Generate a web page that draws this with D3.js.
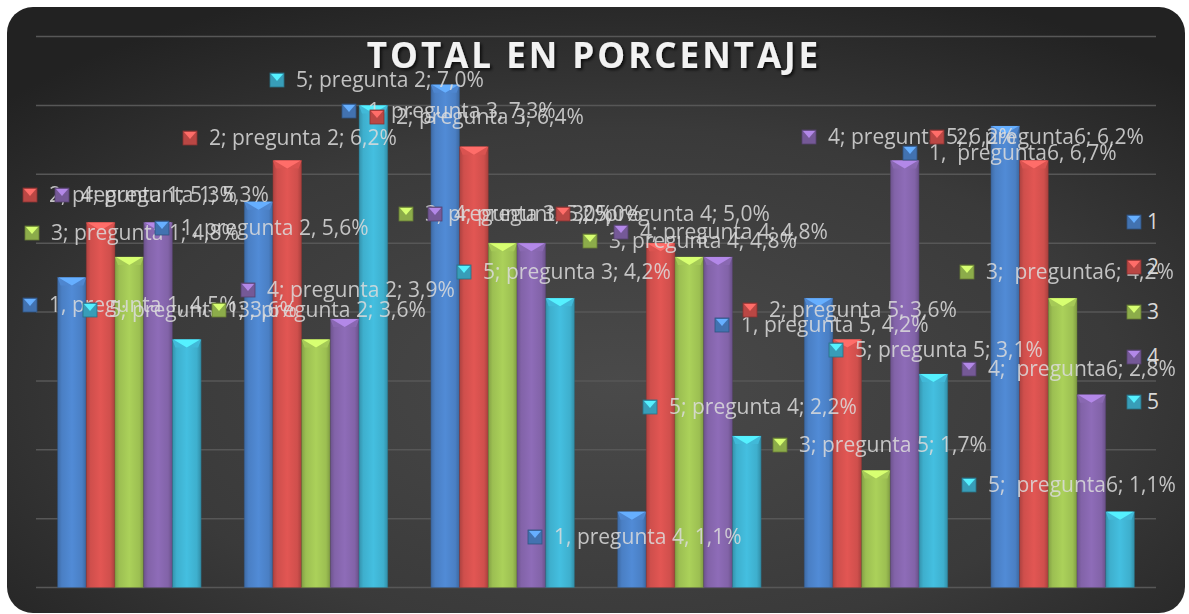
<!DOCTYPE html>
<html>
    <head>
        <script src="https://d3js.org/d3.v7.min.js"></script>
        <style>
            body, html {
                margin: 0;
                padding: 0;
                background: #ffffff;
                font-family: "Open Sans", Lato, sans-serif;
            }
            .title {
                font-family: "Open Sans", Lato, sans-serif;
                font-weight: bold;
                font-size: 35px;
                letter-spacing: 3px;
                fill: #f2f2f2;
            }
            .dlabel {
                font-size: 21px;
                fill: #dcdcdc;
                opacity: 0.85;
                white-space: pre;
            }
            .legendText {
                font-size: 21px;
                fill: #d9d9d9;
            }
        </style>
    </head>
    <body>
        <div id="chart"></div>
        <script>

            /* DATA (percent) */
            const categories = ["pregunta 1", "pregunta 2", "pregunta 3", "pregunta 4", "pregunta 5", "pregunta6"];
            const seriesNames = ["1", "2", "3", "4", "5"];
            const serie1 = [4.5, 5.6, 7.3, 1.1, 4.2, 6.7];
            const serie2 = [5.3, 6.2, 6.4, 5.0, 3.6, 6.2];
            const serie3 = [4.8, 3.6, 5.0, 4.8, 1.7, 4.2];
            const serie4 = [5.3, 3.9, 5.0, 4.8, 6.2, 2.8];
            const serie5 = [3.6, 7.0, 4.2, 2.2, 3.1, 1.1];
            const yTicks = [0, 1, 2, 3, 4, 5, 6, 7, 8];

            const series = [serie1, serie2, serie3, serie4, serie5];
            const colors = ["#4a7fc4", "#cf4f4c", "#9cbf52", "#8263a8", "#3eafcd"];

            /* the data labels were dragged around by hand in the original,
               so their marker positions are layout, per category then per series */
            const labelPos = [
                [[30, 305], [30, 195], [32, 233], [62, 195], [90, 310]],
                [[162, 228], [190, 138], [219, 310], [248, 290], [277, 80]],
                [[349, 111], [377, 117], [406, 214], [435, 214], [464, 272]],
                [[535, 537], [563, 214], [590, 241], [621, 232], [650, 407]],
                [[722, 325], [750, 310], [780, 445], [809, 137], [836, 350]],
                [[910, 153], [937, 137], [967, 272], [969, 369], [969, 485]]
            ];

            const width = 1189;
            const height = 614;
            const plot = {left: 36, right: 1156, top: 36.5, bottom: 587.5};

            const svg = d3.select("#chart")
                .append("svg")
                .attr("width", width)
                .attr("height", height);

            const defs = svg.append("defs");

            // dark background with lighter centre
            const bg = defs.append("radialGradient")
                .attr("id", "bgGrad")
                .attr("cx", "52%").attr("cy", "62%").attr("r", "70%");
            bg.append("stop").attr("offset", "0%").attr("stop-color", "#4a4a4a");
            bg.append("stop").attr("offset", "60%").attr("stop-color", "#3a3a3a");
            bg.append("stop").attr("offset", "100%").attr("stop-color", "#222222");

            svg.append("rect")
                .attr("x", 7).attr("y", 7)
                .attr("width", 1178).attr("height", 606)
                .attr("rx", 26).attr("ry", 26)
                .attr("fill", "url(#bgGrad)");

            // bar gradients
            colors.forEach(function(c, i) {
                const g = defs.append("linearGradient")
                    .attr("id", "barGrad" + i)
                    .attr("x1", "0%").attr("x2", "100%").attr("y1", "0%").attr("y2", "0%");
                const base = d3.color(c);
                g.append("stop").attr("offset", "0%").attr("stop-color", base.darker(0.5));
                g.append("stop").attr("offset", "15%").attr("stop-color", base);
                g.append("stop").attr("offset", "50%").attr("stop-color", base.brighter(0.25));
                g.append("stop").attr("offset", "85%").attr("stop-color", base);
                g.append("stop").attr("offset", "100%").attr("stop-color", base.darker(0.6));
            });

            const x0 = d3.scaleBand()
                .domain(categories)
                .range([plot.left, plot.right])
                .paddingInner(0.231)
                .paddingOuter(0.1155);

            const x1 = d3.scaleBand()
                .domain(seriesNames)
                .range([0, x0.bandwidth()]);

            const y = d3.scaleLinear()
                .domain([0, 8])
                .range([plot.bottom, plot.top]);

            // gridlines
            svg.append("g")
                .selectAll("line")
                .data(yTicks)
                .enter()
                .append("line")
                .attr("x1", plot.left)
                .attr("x2", plot.right)
                .attr("y1", d => y(d))
                .attr("y2", d => y(d))
                .attr("stroke", "#575757")
                .attr("stroke-width", 1.5);

            // title
            const titleShadow = defs.append("filter").attr("id", "tshadow");
            titleShadow.append("feDropShadow")
                .attr("dx", 2).attr("dy", 2).attr("stdDeviation", 1.5)
                .attr("flood-color", "#000").attr("flood-opacity", 0.7);

            svg.append("text")
                .attr("class", "title")
                .attr("x", 594)
                .attr("y", 68)
                .attr("text-anchor", "middle")
                .attr("filter", "url(#tshadow)")
                .text("TOTAL EN PORCENTAJE");

            // bars
            const flat = [];
            categories.forEach(function(cat, ci) {
                seriesNames.forEach(function(s, si) {
                    flat.push({cat: cat, ci: ci, s: s, si: si, v: series[si][ci]});
                });
            });

            const bars = svg.append("g")
                .selectAll("g")
                .data(flat)
                .enter()
                .append("g")
                .attr("transform", d => `translate(${x0(d.cat) + x1(d.s)},0)`);

            const bw = x1.bandwidth();
            const cap = 8;

            bars.append("rect")
                .attr("x", 0)
                .attr("y", d => y(d.v))
                .attr("width", bw)
                .attr("height", d => y(0) - y(d.v))
                .attr("fill", d => `url(#barGrad${d.si})`)
                .attr("stroke", d => d3.color(colors[d.si]).darker(1.2))
                .attr("stroke-opacity", 0.5)
                .attr("stroke-width", 0.8);

            // top bevel
            bars.append("path")
                .attr("d", d => {
                    const t = y(d.v);
                    return `M0,${t} L${bw},${t} L${bw - 3},${t + cap} L3,${t + cap} Z`;
                })
                .attr("fill", d => d3.color(colors[d.si]).brighter(0.15));
            bars.append("path")
                .attr("d", d => {
                    const t = y(d.v);
                    return `M1,${t} L${bw - 1},${t} L${bw / 2},${t + cap} Z`;
                })
                .attr("fill", d => d3.color(colors[d.si]).brighter(0.9));

            // small bevelled marker used in labels and legend
            function marker(g, color) {
                const c = d3.color(color);
                g.append("rect")
                    .attr("x", -7).attr("y", -7)
                    .attr("width", 14).attr("height", 14)
                    .attr("fill", c.darker(0.3))
                    .attr("stroke", c.darker(1.2))
                    .attr("stroke-width", 0.8);
                g.append("path")
                    .attr("d", "M-6,-6 L6,-6 L0,1 Z")
                    .attr("fill", c.brighter(0.9));
            }

            function labelText(d) {
                const val = d3.format(".1f")(d.v).replace(".", ",") + "%";
                const sep = d.si === 0 ? ", " : "; ";
                const gap = d.cat === "pregunta6" ? "  " : " ";
                return d.s + sep.trim() + gap + d.cat + sep + val;
            }

            // data labels
            const labels = svg.append("g")
                .selectAll("g")
                .data(flat)
                .enter()
                .append("g")
                .attr("transform", d => `translate(${labelPos[d.ci][d.si][0]},${labelPos[d.ci][d.si][1]})`);

            labels.each(function(d) {
                marker(d3.select(this), colors[d.si]);
            });

            labels.append("text")
                .attr("class", "dlabel")
                .attr("x", 19)
                .attr("y", 0)
                .attr("dy", "0.35em")
                .text(d => labelText(d));

            // legend
            const legend = svg.append("g")
                .selectAll("g")
                .data(seriesNames)
                .enter()
                .append("g")
                .attr("transform", (d, i) => `translate(1134,${222 + i * 45})`);

            legend.each(function(d, i) {
                marker(d3.select(this), colors[i]);
            });

            legend.append("text")
                .attr("class", "legendText")
                .attr("x", 13)
                .attr("dy", "0.35em")
                .text(d => d);

        </script>
    </body>
</html>
